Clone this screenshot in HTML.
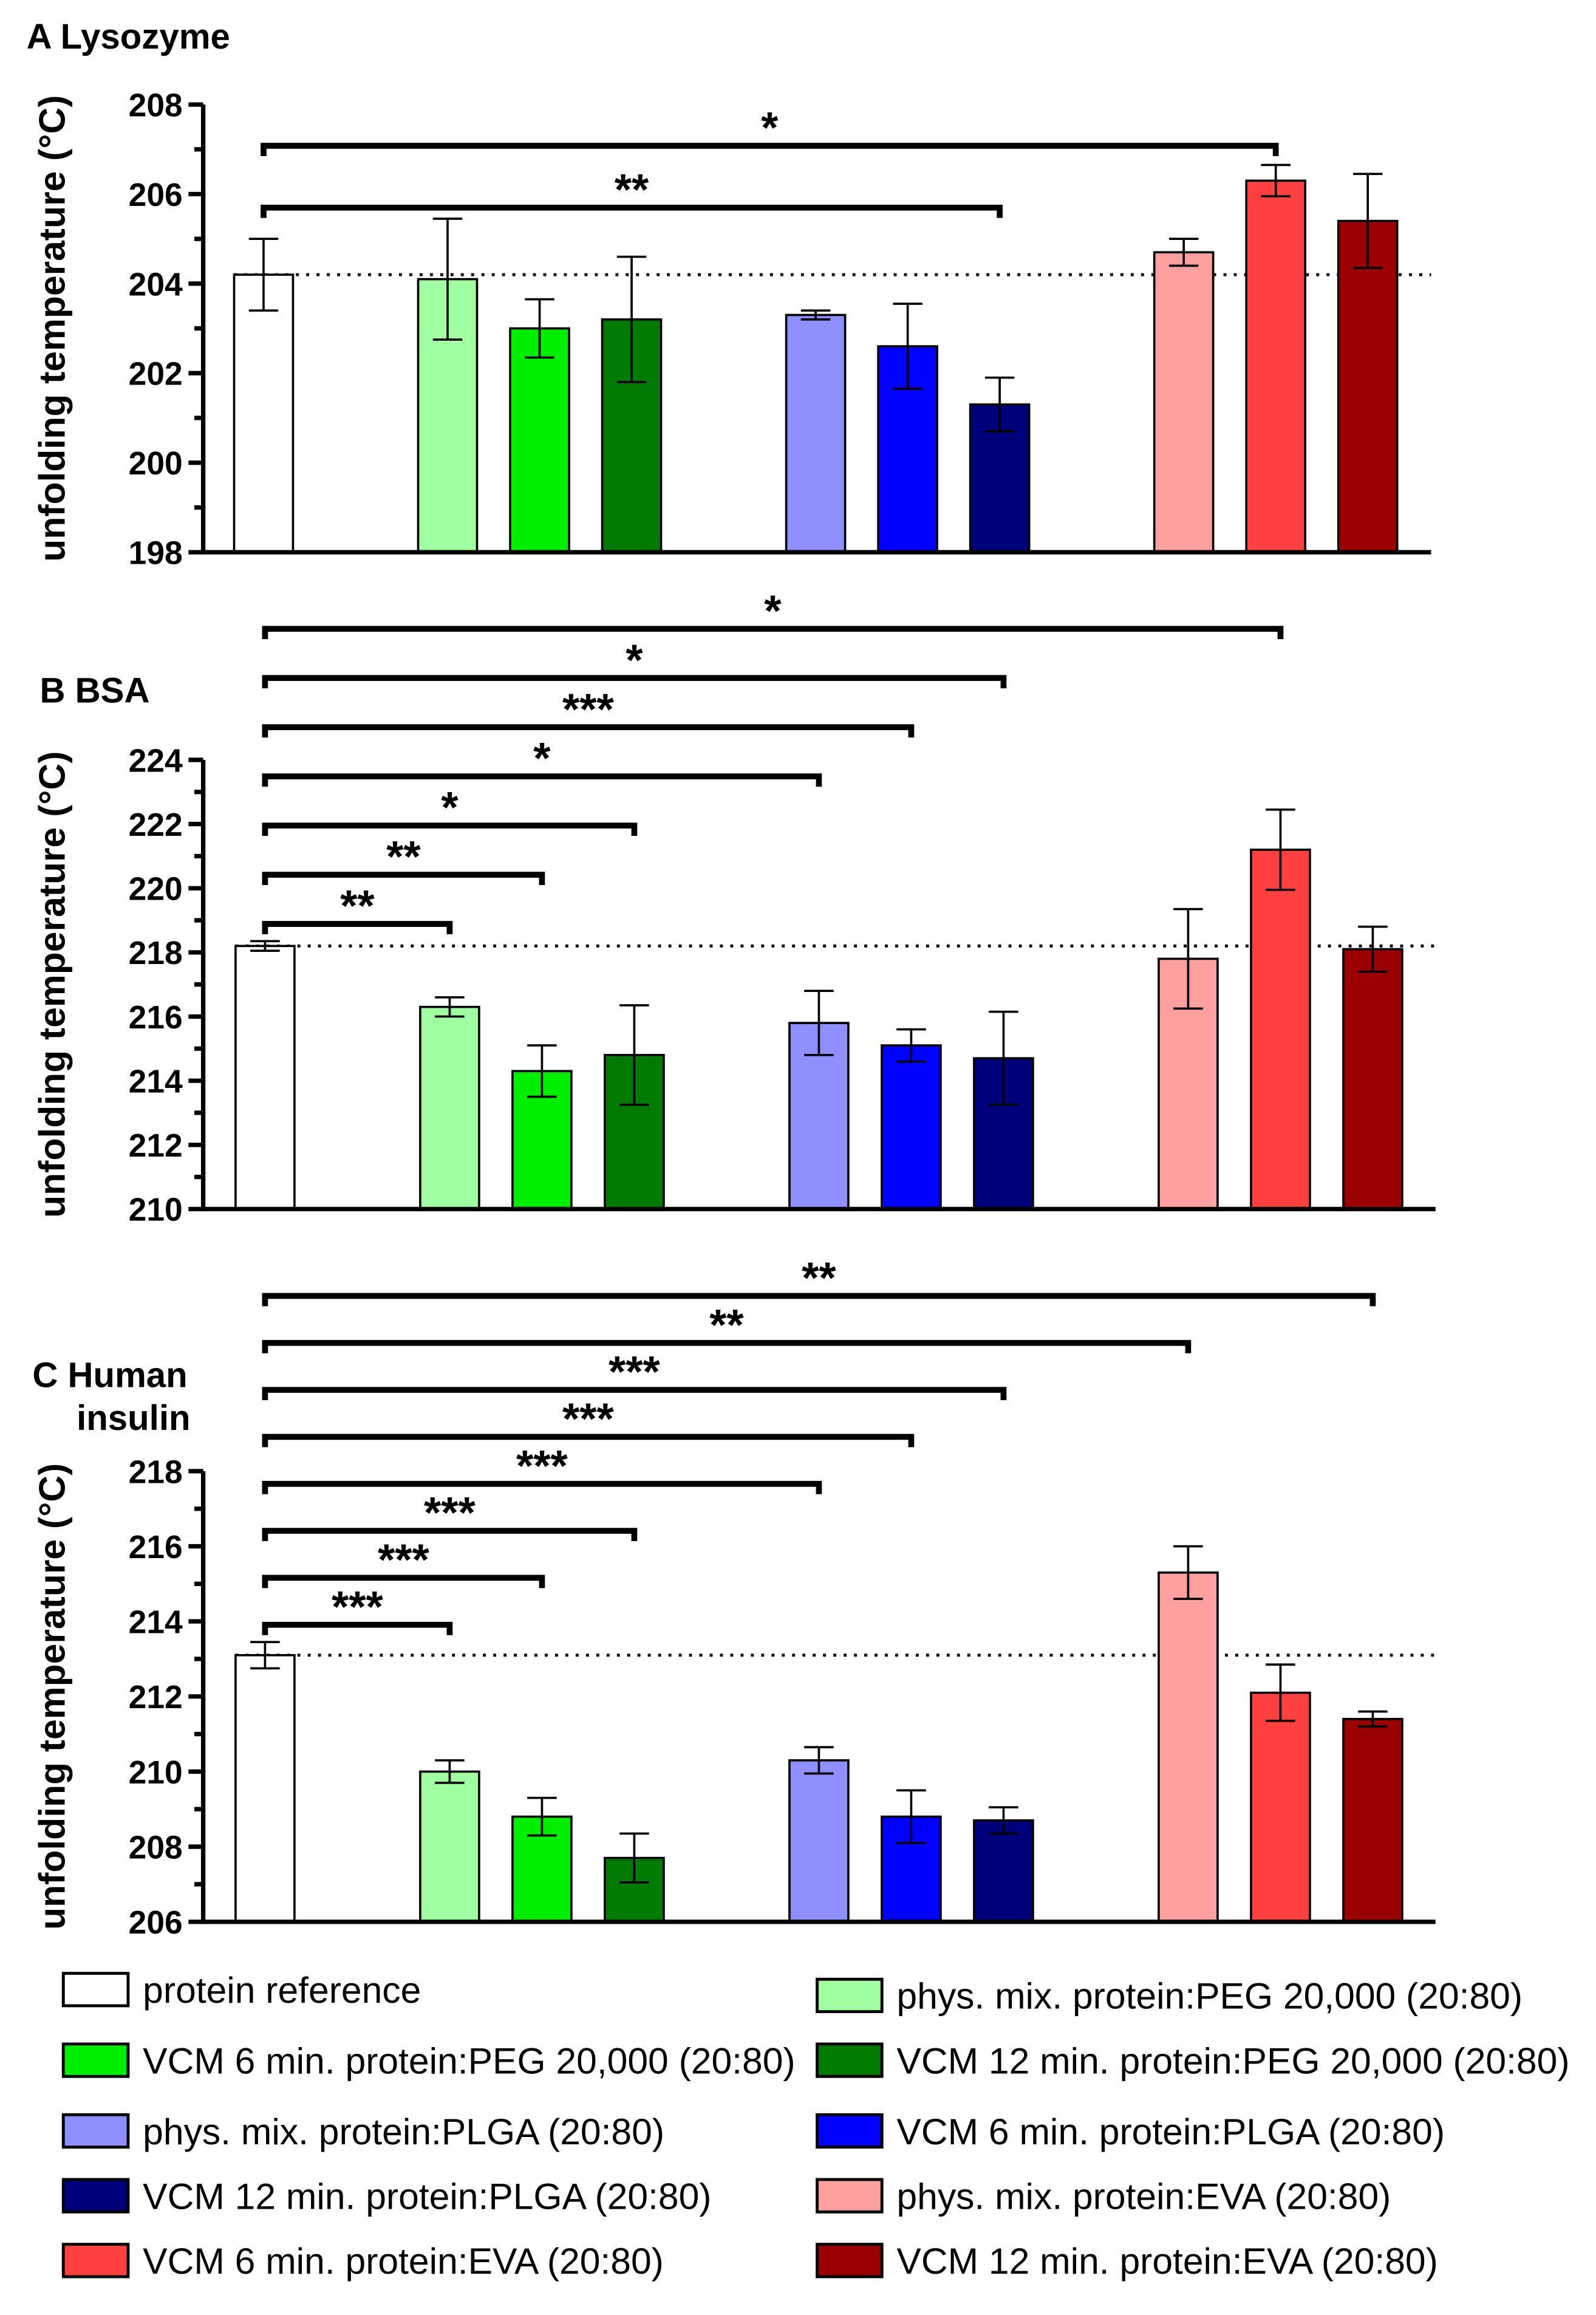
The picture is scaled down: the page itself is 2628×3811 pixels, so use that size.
<!DOCTYPE html>
<html><head><meta charset="utf-8"><style>
html,body{margin:0;padding:0;background:#fff;}
svg{display:block;font-family:"Liberation Sans",Arial,sans-serif;}
</style></head><body>
<svg id="fig" width="2628" height="3811" viewBox="0 0 1084 1572" xmlns="http://www.w3.org/2000/svg"></svg>
<script>
const groups = ["protein reference","phys. mix. protein:PEG 20,000 (20:80)","VCM 6 min. protein:PEG 20,000 (20:80)","VCM 12 min. protein:PEG 20,000 (20:80)","phys. mix. protein:PLGA (20:80)","VCM 6 min. protein:PLGA (20:80)","VCM 12 min. protein:PLGA (20:80)","phys. mix. protein:EVA (20:80)","VCM 6 min. protein:EVA (20:80)","VCM 12 min. protein:EVA (20:80)"];
const colors = ["#ffffff","#a0ffa0","#00ee00","#007a00","#8f8fff","#0000ff","#00007a","#ffa0a0","#ff4040","#9a0000"];
const lysoValues = [204.2,204.1,203.0,203.2,203.3,202.6,201.3,204.7,206.3,205.4];
const lysoErrors = [0.8,1.35,0.65,1.4,0.1,0.95,0.6,0.3,0.35,1.05];
const bsaValues = [218.2,216.3,214.3,214.8,215.8,215.1,214.7,217.8,221.2,218.1];
const bsaErrors = [0.15,0.3,0.8,1.55,1.0,0.5,1.45,1.55,1.25,0.7];
const insValues = [213.1,210.0,208.8,207.7,210.3,208.8,208.7,215.3,212.1,211.4];
const insErrors = [0.35,0.3,0.5,0.65,0.35,0.7,0.35,0.7,0.75,0.2];
const lysoTicks = [198,200,202,204,206,208];
const bsaTicks = [210,212,214,216,218,220,222,224];
const insTicks = [206,208,210,212,214,216,218];
const lysoSig = [[8,"*"],[6,"**"]];
const bsaSig = [[8,"*"],[6,"*"],[5,"***"],[4,"*"],[3,"*"],[2,"**"],[1,"**"]];
const insSig = [[9,"**"],[7,"**"],[6,"***"],[5,"***"],[4,"***"],[3,"***"],[2,"***"],[1,"***"]];

const NS="http://www.w3.org/2000/svg";
const svg=document.getElementById('fig');
function mk(tag,attrs,parent){const e=document.createElementNS(NS,tag);for(const k in attrs)e.setAttribute(k,attrs[k]);(parent||svg).appendChild(e);return e;}
const slotX=[0,2,3,4,6,7,8,10,11,12];

function panel(cfg){
  const g=mk('g',{});
  
  
  const ymin=cfg.ticks[0],ymax=cfg.ticks[cfg.ticks.length-1];
  const y=v=>cfg.yb-(v-ymin)/(ymax-ymin)*(cfg.yb-cfg.yt);
  const x=i=>cfg.x0+slotX[i]*cfg.step;
  const ref=mk('line',{x1:x(0)-20,x2:cfg.xe,y1:y(cfg.vals[0]),y2:y(cfg.vals[0]),stroke:'#000','stroke-width':2,'stroke-dasharray':'2 5'},g);
  
  
  cfg.vals.forEach((v,i)=>{
    const r=mk('rect',{x:x(i)-20,y:y(v),width:40,height:cfg.yb-y(v),fill:colors[i],stroke:'#000','stroke-width':1.5},g);
    
    
    const e=cfg.errs[i];
    const eb=mk('path',{d:`M${x(i)},${y(v+e)}V${y(v-e)}M${x(i)-10},${y(v+e)}H${x(i)+10}M${x(i)-10},${y(v-e)}H${x(i)+10}`,stroke:'#000','stroke-width':1.5,fill:'none'},g);
    
    
  });
  const ax=mk('path',{d:`M${cfg.ax},${cfg.yt}V${cfg.yb}H${cfg.xe}`,stroke:'#000','stroke-width':3,fill:'none'},g);
  
  
  for(let v=ymin;v<=ymax;v++){
    const major=cfg.ticks.includes(v);
    mk('line',{x1:cfg.ax-(major?10:6),x2:cfg.ax,y1:y(v),y2:y(v),stroke:'#000','stroke-width':3},g);
    if(major){const t=mk('text',{x:cfg.ax-14,y:y(v)+8,'text-anchor':'end','font-size':22,'font-weight':'bold'},g);t.textContent=v;
      }
  }
  const yt=mk('text',{transform:`translate(44,${(cfg.yt+cfg.yb)/2}) rotate(-90)`,'text-anchor':'middle','font-size':25,'font-weight':'bold'},g);
  yt.textContent='unfolding temperature (°C)';
  
  
  cfg.sig.forEach((s,k)=>{
    const yy=cfg.sigY0+k*cfg.sigStep;
    const xe=x(s[0]);
    const p=mk('path',{d:`M${x(0)},${yy+7}V${yy}H${xe}V${yy+7}`,stroke:'#000','stroke-width':4,fill:'none'},g);
    
    
    const t=mk('text',{x:(x(0)+xe)/2,y:yy-2,'text-anchor':'middle','font-size':30,'font-weight':'bold'},g);
    t.textContent=s[1];
    
    
  });
}
panel({name:'panel-a-lysozyme',vals:lysoValues,errs:lysoErrors,ticks:lysoTicks,yt:71,yb:375,x0:179,step:62.5,ax:138,xe:972,sig:lysoSig,sigY0:99,sigStep:42});
panel({name:'panel-b-bsa',vals:bsaValues,errs:bsaErrors,ticks:bsaTicks,yt:516,yb:821,x0:180,step:62.7,ax:138,xe:975,sig:bsaSig,sigY0:427,sigStep:33.4});
panel({name:'panel-c-insulin',vals:insValues,errs:insErrors,ticks:insTicks,yt:999,yb:1305,x0:180,step:62.7,ax:138,xe:975,sig:insSig,sigY0:880,sigStep:31.9});

function label(txt,xx,yy,name){const t=mk('text',{x:xx,y:yy,'font-size':24,'font-weight':'bold'});t.textContent=txt;
  }
label('A Lysozyme',18,33,'panel-a-title');
label('B  BSA',27,477,'panel-b-title');
label('C  Human',22,942,'panel-c-title');
label('insulin',52,971,'panel-c-title-line2');

const legY=[1351,1399,1447,1491,1535];
groups.forEach((gname,i)=>{
  const col=i%2, row=Math.floor(i/2);
  const bx=col?555:43, by=legY[row]+(col&&row==0?4:0);
  const lg=mk('g',{});
  
  
  mk('rect',{x:bx,y:by-11,width:44,height:22,fill:colors[i],stroke:'#000','stroke-width':2},lg);
  const t=mk('text',{x:bx+54,y:by+9,'font-size':25},lg);t.textContent=gname;
});
</script>
</body></html>
